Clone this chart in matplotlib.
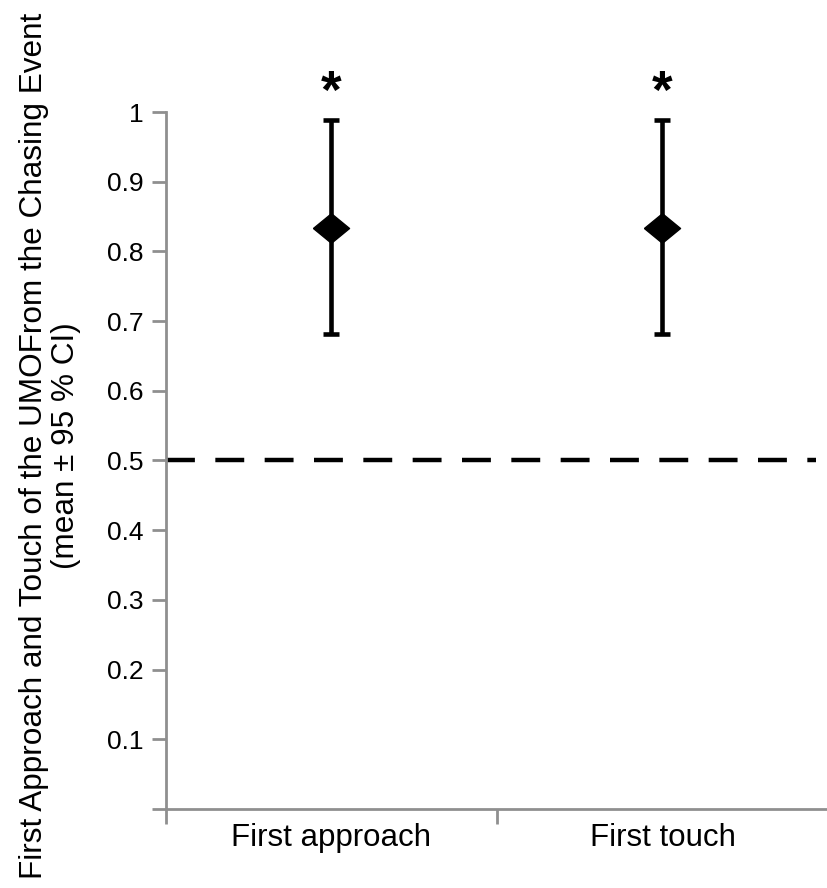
import matplotlib
matplotlib.use('Agg')
import matplotlib.pyplot as plt
import numpy as np

plt.rcParams['font.family'] = ['Liberation Sans', 'DejaVu Sans']

# data
categories = ['First approach', 'First touch']
means = [0.834, 0.834]
ci_low = [0.681, 0.681]
ci_high = [0.988, 0.988]
chance_level = 0.5
yticks = [0, 0.1, 0.2, 0.3, 0.4, 0.5, 0.6, 0.7, 0.8, 0.9, 1.0]
ytick_labels = ['', '0.1', '0.2', '0.3', '0.4', '0.5', '0.6', '0.7', '0.8', '0.9', '1']
sig_marks = ['*', '*']

axis_grey = '#8f8f8f'
# slightly flattened diamond like the original
diamond = [(-1, 0), (0, 0.82), (1, 0), (0, -0.82), (-1, 0)]

fig = plt.figure(figsize=(8.28, 8.88), dpi=100)
ax = fig.add_axes([166 / 828, 1 - 809 / 888, 1 - 166 / 828, (809 - 112) / 888])

x = np.arange(len(categories))
means = np.array(means)
yerr = [means - np.array(ci_low), np.array(ci_high) - means]

ax.hlines(chance_level, -0.5, 1.465, colors='black', linewidth=3.2,
          linestyles=(0, (6.5, 4.6)))
ax.errorbar(x, means, yerr=yerr, fmt='none', ecolor='black',
            elinewidth=3.3, capsize=5.5, capthick=3.3)
ax.plot(x, means, linestyle='none', marker=diamond, markersize=26,
        color='black')

for xi, mark in zip(x, sig_marks):
    ax.text(xi, 1.006, mark, ha='center', va='baseline', fontsize=38,
            fontweight='bold', clip_on=False)

ax.set_xlim(-0.5, 1.483)
ax.set_ylim(0, 1)

ax.set_yticks(yticks)
ax.set_yticklabels(ytick_labels, fontsize=19)
ax.tick_params(axis='y', length=10, width=2, color=axis_grey, pad=6)

ax.set_xticks([-0.5, 0.5, 1.5])
ax.set_xticklabels([])
ax.set_xticks(x, minor=True)
ax.set_xticklabels(categories, minor=True, fontsize=22.5)
ax.tick_params(axis='x', which='major', length=11, width=2, color=axis_grey,
               direction='out')
ax.tick_params(axis='x', which='minor', length=0, pad=10)

for side in ['top', 'right']:
    ax.spines[side].set_visible(False)
for side in ['left', 'bottom']:
    ax.spines[side].set_color(axis_grey)
    ax.spines[side].set_linewidth(2)

fig.text(50 / 828, 1 - 446 / 888,
         'First Approach and Touch of the UMOFrom the Chasing Event\n(mean \u00b1 95 % CI)',
         rotation=90, ha='center', va='center', fontsize=22.7,
         multialignment='center', linespacing=1.05)

fig.savefig('out.png', dpi=100)
